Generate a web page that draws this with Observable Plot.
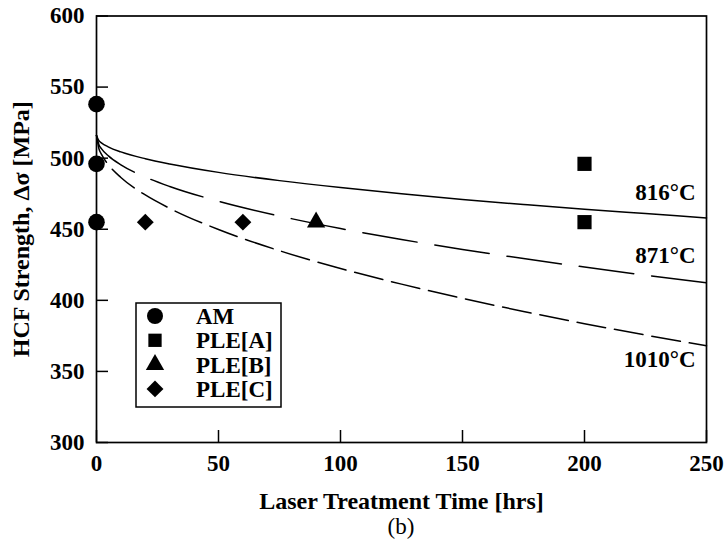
<!DOCTYPE html>
<html><head><meta charset="utf-8">
<script src="https://cdn.jsdelivr.net/npm/d3@7"></script>
<script src="https://cdn.jsdelivr.net/npm/@observablehq/plot@0.6"></script>
<style>
body{margin:0;background:#fff;}
#wrap{position:relative;width:725px;height:558px;font-family:"Liberation Serif","Times New Roman",serif;}
#cap{position:absolute;left:0;width:802px;text-align:center;font-size:23px;top:515px;line-height:24px;}
</style></head><body><div id="wrap"></div>
<script>
// Data
const amTime = [0, 0, 0];
const amStrength = [538, 496, 455];
const pleATime = [200, 200];
const pleAStrength = [496, 455];
const pleBTime = [90];
const pleBStrength = [455];
const pleCTime = [20, 60];
const pleCStrength = [455, 455];

const curveTime = [0, 1, 2, 5, 10, 20, 30, 50, 75, 100, 125, 150, 175, 200, 225, 250];
const curve816 = [516, 512.3, 510.8, 507.8, 504.4, 499.6, 495.9, 490, 484.2, 479.3, 475, 471, 467.4, 464, 461, 458];
const curve871 = [516, 509.5, 506.7, 501.4, 495.3, 486.7, 480.1, 469.7, 459.3, 450.5, 442.8, 435.8, 429.4, 423.4, 417.7, 412.4];
const curve1010 = [516, 506.6, 502.8, 495.1, 486.4, 474.1, 464.7, 449.8, 434.9, 422.4, 411.4, 401.4, 392.2, 383.6, 375.6, 368];
const curveLabels = ["816°C", "871°C", "1010°C"];

const seriesNames = ["AM", "PLE[A]", "PLE[B]", "PLE[C]"];
const seriesSymbols = ["circle", "square", "triangle", "diamond2"];

const xTicks = [0, 50, 100, 150, 200, 250];
const yTicks = [300, 350, 400, 450, 500, 550, 600];

const pts = (xs, ys) => xs.map((x, i) => ({x, y: ys[i]}));
const curves = [curve816, curve871, curve1010];
const curveRows = curves.map(c => pts(curveTime, c));
const endRows = curves.map((c, i) => ({x: curveTime[curveTime.length - 1], y: c[c.length - 1], label: curveLabels[i]}));

const W = 725, H = 512;
const chart = Plot.plot({
  width: W, height: H,
  marginLeft: 96, marginRight: 19, marginTop: 15.5, marginBottom: H - 442,
  x: {domain: [0, 250], ticks: xTicks},
  y: {domain: [300, 600], ticks: yTicks},
  style: {fontFamily: "Liberation Serif, Times New Roman, serif", fontSize: "23px", fontWeight: "bold", color: "#000", background: "#fff", overflow: "visible"},
  marks: [
    Plot.axisY(yTicks, {tickSize: -12, tickFormat: () => "", strokeWidth: 1.5, label: null}),
    Plot.axisX(xTicks, {tickSize: -12, tickFormat: () => "", strokeWidth: 1.5, label: null}),
    Plot.axisY(yTicks, {tickSize: 0, tickPadding: 12, fontSize: 23, label: null}),
    Plot.axisX(xTicks, {tickSize: 0, tickPadding: 12, fontSize: 23, label: null}),
    Plot.axisY({tickSize: 0, ticks: [], label: "HCF Strength, Δσ [MPa]", labelAnchor: "center", labelOffset: 85, labelArrow: "none", fontSize: 24}),
    Plot.axisX({tickSize: 0, ticks: [], label: "Laser Treatment Time [hrs]", labelAnchor: "center", labelOffset: 66, labelArrow: "none", fontSize: 24}),
    Plot.frame({stroke: "#000", strokeWidth: 1.7}),
    Plot.line(curveRows[0], {x: "x", y: "y", stroke: "#000", strokeWidth: 1.5, curve: "monotone-x"}),
    Plot.line(curveRows[1], {x: "x", y: "y", stroke: "#000", strokeWidth: 1.5, strokeDasharray: "55,18", curve: "monotone-x"}),
    Plot.line(curveRows[2], {x: "x", y: "y", stroke: "#000", strokeWidth: 1.5, strokeDasharray: "29,9", curve: "monotone-x"}),
    Plot.text([endRows[0]], {x: "x", y: "y", text: "label", textAnchor: "end", dx: -11, dy: -25, fontSize: 23}),
    Plot.text([endRows[1]], {x: "x", y: "y", text: "label", textAnchor: "end", dx: -11, dy: -27, fontSize: 23}),
    Plot.text([endRows[2]], {x: "x", y: "y", text: "label", textAnchor: "end", dx: -11, dy: 14, fontSize: 23}),
    Plot.dot(pts(amTime, amStrength), {x: "x", y: "y", symbol: "circle", r: 8.3, fill: "#000"}),
    Plot.dot(pts(pleATime, pleAStrength), {x: "x", y: "y", symbol: "square", r: 8, fill: "#000"}),
    Plot.dot(pts(pleBTime, pleBStrength), {x: "x", y: "y", symbol: "triangle", r: 6.8, fill: "#000"}),
    Plot.dot(pts(pleCTime, pleCStrength), {x: "x", y: "y", symbol: "diamond2", r: 7.6, fill: "#000"})
  ]
});
document.getElementById("wrap").appendChild(chart);

// Legend box inside plot area
const svg = d3.select(chart);
const lg = svg.append("g").attr("transform", "translate(136,303)");
lg.append("rect").attr("width", 145).attr("height", 104).attr("fill", "#fff").attr("stroke", "#000").attr("stroke-width", 1.5);
const symMap = {circle: d3.symbolCircle, square: d3.symbolSquare, triangle: d3.symbolTriangle, diamond2: d3.symbolDiamond2};
const rs = [8, 7.5, 6.8, 7.6];
seriesNames.forEach((name, i) => {
  const cy = 13 + i * 24.3;
  lg.append("path").attr("transform", `translate(19,${cy})`)
    .attr("d", d3.symbol(symMap[seriesSymbols[i]], Math.PI * rs[i] * rs[i])()).attr("fill", "#000");
  lg.append("text").attr("x", 60).attr("y", cy).attr("dy", "0.35em").attr("text-anchor", "start")
    .attr("font-weight", "bold").attr("font-size", 23).text(name);
});

const cap = document.createElement("div");
cap.id = "cap";
cap.textContent = "(b)";
document.getElementById("wrap").appendChild(cap);
</script>
</body></html>
